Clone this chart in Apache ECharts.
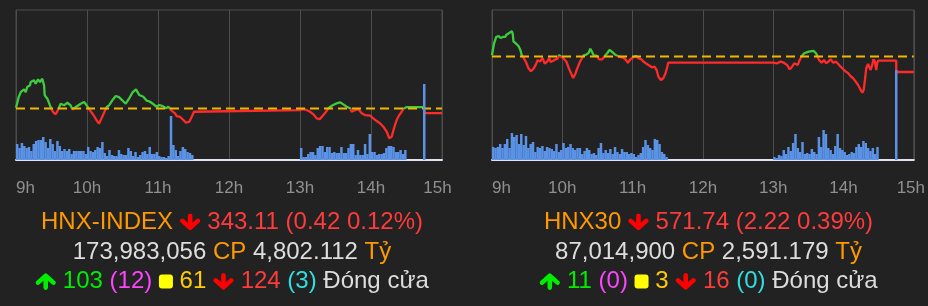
<!DOCTYPE html>
<html><head><meta charset="utf-8">
<script src="https://cdn.jsdelivr.net/npm/echarts@6/dist/echarts.min.js"></script>
<style>html,body{margin:0;padding:0;background:#222;}#c{width:928px;height:306px;}</style>
</head><body><div id="c"></div><script>
// ---- tick labels ----
const hourLabels = ['9h', '10h', '11h', '12h', '13h', '14h', '15h'];

// ---- HNX-INDEX intraday (minutes after 9:00, index value) ----
const hnxTimes = [0,2.3,4.0,6.8,8.2,9.5,11.8,12.4,15.2,16.6,18.6,20.3,22.2,23.7,24.3,26.5,28.7,29.8,31.5,33.5,34.9,36.3,37.8,40.6,43.4,46.2,47.6,49.0,50.5,51.8,54.7,56.0,57.5,59.7,60.8,62.5,65.3,68.2,70.1,72.1,75.0,76.7,78.6,81.4,84.3,87.0,89.8,92.7,95.5,98.3,101.4,104.2,107.6,110.5,113.2,116.0,118.9,121.1,124.0,126.8,128.7,130.1,131.6,134.4,135.8,138.6,141.4,143.7,146.5,148.5,150.4,151.0,240,242.8,245.7,248.5,251.3,254.1,256.9,259.7,262.5,263.9,266.8,271.0,273.8,276.6,279.5,282.3,283.7,285.0,286.5,289.3,292.1,294.9,299.2,301.9,304.8,307.6,310.4,313.3,315.5,317.5,319.4,321.7,323.9,325.9,327.3,328.7,330.2,345,345,360];
const hnxValues = [343.60,344.60,345.07,345.32,345.07,345.54,345.70,346.01,346.17,345.85,346.26,346.01,346.32,345.70,344.76,344.45,343.83,343.51,343.20,342.99,343.27,343.27,343.98,343.83,344.07,343.83,343.42,343.27,343.67,343.83,343.98,343.83,344.14,343.83,343.67,343.36,342.95,342.43,342.11,342.58,343.27,343.67,343.83,344.30,344.70,344.60,344.30,343.98,344.45,345.01,345.32,344.79,344.63,344.26,344.17,343.95,343.70,343.86,343.76,343.55,343.70,343.55,343.32,343.08,342.83,342.76,342.46,342.20,342.30,342.76,343.23,343.34,343.39,343.48,343.39,343.23,342.99,342.61,342.55,342.92,343.30,343.55,343.79,344.02,344.11,343.92,343.70,343.55,343.23,343.08,343.39,343.48,343.08,342.92,342.86,342.61,342.36,342.15,341.83,341.36,340.74,340.90,341.68,342.46,342.92,343.23,343.48,343.60,343.67,343.67,343.11,343.11];
const hnxRef = 343.53;
// volume, 2-minute buckets (morning from 9:00, afternoon from 13:00), plus ATC at 14:45
const hnxVolAM = [16,12,17,14,12,13,9,16,19,20,20,23,18,12,21,16,9,19,14,9,11,9,11,6,9,9,9,9,9,6,13,9,8,10,13,12,18,7,4,10,5,4,4,10,6,5,5,12,9,4,8,3,5,8,9,6,13,6,6,8,4,3,3,2,4,44,15,10,4,9,13,11,8,7,5];
const hnxVolPM = [12,3,3,6,8,8,5,12,14,14,8,13,13,7,8,7,7,13,7,7,12,16,16,5,10,5,5,16,6,26,8,8,5,6,6,7,12,14,14,13,8,8,10,6,10];
const hnxVolATC = 76;

// ---- HNX30 intraday ----
const h30Times = [0,1.7,3.6,5.7,7.4,9.3,11.2,12.4,13.5,15.0,16.9,17.7,18.3,20.5,22.6,24.3,25.4,27.0,29.0,31.0,33.2,35.5,37.4,38.9,41.2,43.1,45.0,47.3,48.8,50.1,53.0,55.8,57.2,59.2,61.4,63.6,65.7,67.6,69.3,71.2,72.7,75.0,76.9,78.3,80.5,82.6,83.9,85.4,86.8,89.6,91.3,94.1,96.3,98.3,100.3,102.0,103.9,105.9,108.2,111.0,113.8,116.0,118.1,120.8,122.8,125.1,127.4,129.3,131.2,133.5,136.3,138.6,140.5,142.0,144.2,146.2,148.1,149.6,150.4,240,240.6,243.4,246.2,249.0,251.8,254.1,256.1,258.0,259.7,260.9,262.6,264.5,266.5,270.2,274.4,276.6,277.8,279.5,281.4,283.4,285.1,287.1,289.0,291.3,293.5,295.5,297.5,299.8,302.0,304.0,305.9,308.2,310.4,312.4,314.4,316.1,317.2,318.3,319.4,320.9,322.2,323.1,324.5,325.6,326.8,327.9,328.7,329.6,345,345,360];
const h30Values = [574.13,575.79,576.75,576.89,576.60,576.75,576.75,577.07,576.99,577.36,577.56,577.22,576.13,575.79,575.46,574.85,574.13,573.75,573.17,572.32,571.85,572.22,572.79,573.42,573.27,573.75,572.93,573.27,573.75,573.17,573.42,573.65,574.13,573.89,573.65,573.17,572.22,571.50,570.89,571.50,572.22,573.17,573.75,574.13,574.22,574.50,575.07,574.60,574.13,574.03,573.56,573.56,574.03,574.42,574.89,574.65,574.42,574.13,573.93,573.85,573.56,573.07,573.56,573.85,574.03,573.70,573.56,573.22,572.99,572.75,572.42,572.50,572.03,571.07,570.60,570.85,571.56,572.50,573.07,573.07,572.99,572.99,573.22,573.07,572.75,572.13,572.50,572.99,573.22,572.75,573.46,574.03,574.42,574.65,574.75,574.42,573.93,573.36,573.07,573.46,572.99,573.22,573.56,573.07,573.22,572.89,572.50,572.13,571.79,571.56,571.17,570.85,570.36,569.89,569.27,568.79,569.17,570.60,572.27,572.89,573.07,572.03,572.75,573.56,573.22,572.03,572.99,573.36,573.36,571.74,571.74];
const h30Ref = 573.96;
const h30VolAM = [13,12,13,16,12,16,21,12,27,23,25,16,26,15,24,12,16,18,8,13,12,14,9,13,12,11,9,16,8,10,17,12,13,16,12,10,12,12,6,9,12,10,6,7,5,12,17,7,10,7,11,6,13,8,6,11,8,8,6,7,6,3,5,7,13,20,15,12,10,21,20,16,8,6,3];
const h30VolPM = [3,2,5,4,10,6,13,9,17,26,12,8,18,6,7,6,11,8,6,23,13,30,26,12,10,6,14,26,12,10,8,5,6,8,7,13,16,13,19,17,12,9,12,6,13];
const h30VolATC = 90;

// ---- summary texts ----
const hnxSummary = ['HNX-INDEX', '343.11', '0.42', '0.12%'];
const hnxTrade = ['173,983,056', '4,802.112'];
const hnxBreadth = ['103', '12', '61', '124', '3'];
const h30Summary = ['HNX30', '571.74', '2.22', '0.39%'];
const h30Trade = ['87,014,900', '2,591.179'];
const h30Breadth = ['11', '0', '3', '16', '0'];

// ---- helpers ----
const pairs = (xs, ys) => xs.map((x, i) => [x, ys[i]]);
const volData = (am, pm, atc) => am.map((v, k) => [2 * k + 1, v])
  .concat(pm.map((v, k) => [241 + 2 * k, v]))
  .concat([[345, atc]]);

const svgUri = s => 'data:image/svg+xml;charset=utf-8,' + encodeURIComponent(s);
const downImg = svgUri("<svg xmlns='http://www.w3.org/2000/svg' width='21' height='17' viewBox='0 0 21 17'><path d='M10.5 2.4V14M2.8 7.4L10.5 14.4L18.2 7.4' fill='none' stroke='#ff0000' stroke-width='4.6' stroke-linecap='round' stroke-linejoin='round'/></svg>");
const upImg = svgUri("<svg xmlns='http://www.w3.org/2000/svg' width='21' height='17' viewBox='0 0 21 17'><path d='M10.5 14.6V3M2.8 9.6L10.5 2.6L18.2 9.6' fill='none' stroke='#00ee00' stroke-width='4.6' stroke-linecap='round' stroke-linejoin='round'/></svg>");

const FONT = 'Liberation Sans, Arial, Helvetica, sans-serif';
const FS = 24;
const rich = {
  o: { color: '#ff9900', fontSize: FS, fontFamily: FONT },
  r: { color: '#ff3b3b', fontSize: FS, fontFamily: FONT },
  w: { color: '#dddddd', fontSize: FS, fontFamily: FONT },
  g: { color: '#00ee00', fontSize: FS, fontFamily: FONT },
  m: { color: '#ff44ff', fontSize: FS, fontFamily: FONT },
  y: { color: '#ffcc00', fontSize: FS, fontFamily: FONT },
  c: { color: '#33dddd', fontSize: FS, fontFamily: FONT },
  dn: { width: 21, height: 17, backgroundColor: { image: downImg } },
  up: { width: 21, height: 17, backgroundColor: { image: upImg } },
  sq: { width: 14, height: 14, backgroundColor: '#ffff00', borderRadius: 3 }
};
const line1 = s => `{o|${s[0]}} {dn| } {r|${s[1]} (${s[2]} ${s[3]})}`;
const line2 = t => `{w|${t[0]}} {o|CP} {w|${t[1]}} {o|Tỷ}`;
const line3 = b => `{up| } {g|${b[0]}} {m|(${b[1]})} {sq| } {y|${b[2]}} {dn| } {r|${b[3]}} {c|(${b[4]})} {w|Đóng cửa}`;

function titles(cx, s, t, b) {
  return [[line1(s), 222], [line2(t), 252.5], [line3(b), 281.5]].map(([txt, y]) => ({
    text: txt, left: cx, top: y, textAlign: 'center', textVerticalAlign: 'middle', padding: 0,
    textStyle: { fontSize: FS, fontFamily: FONT, color: '#dddddd', fontWeight: 'normal', rich }
  }));
}

function xAxisFor(grid, lastPad) {
  return {
    type: 'value', gridIndex: grid, min: 0, max: 360, interval: 60,
    axisLine: { show: true, onZero: false, lineStyle: { color: '#dde3ee', width: 2 } },
    axisTick: { show: false },
    splitLine: { show: true, lineStyle: { color: '#4d4d4d', width: 1 } },
    axisLabel: {
      show: true, margin: 20, color: '#909090', fontSize: 17, fontFamily: FONT,
      showMinLabel: true, showMaxLabel: true, alignMinLabel: 'left',
      formatter: v => { const l = hourLabels[Math.round(v / 60)]; return v >= 360 ? `{last|${l}}` : l; },
      rich: { last: { color: '#909090', fontSize: 17, fontFamily: FONT, padding: [0, lastPad, 0, 0] } }
    }
  };
}
const hiddenY = (grid, min, max) => ({ type: 'value', gridIndex: grid, min, max, show: false, splitLine: { show: false } });

const GREEN = '#3dcc3d', RED = '#ff2a2a', BLUE = '#5a92e6', GOLD = '#f2b600';

function panelSeries(x, yP, yV, times, values, ref, am, pm, atc) {
  return [
    { type: 'bar', xAxisIndex: x, yAxisIndex: yV, data: volData(am, pm, atc), barWidth: 2.5,
      itemStyle: { color: BLUE }, z: 4, silent: true, animation: false },
    { type: 'line', xAxisIndex: x, yAxisIndex: yP, data: pairs(times, values), showSymbol: false,
      symbol: 'none', lineStyle: { width: 2.3 }, z: 2, animation: false },
    { type: 'line', xAxisIndex: x, yAxisIndex: yP, data: [[0, ref], [360, ref]], showSymbol: false,
      symbol: 'none', lineStyle: { width: 2, color: GOLD, type: [9, 5] }, z: 3, animation: false }
  ];
}

const pieces = ref => [
  { gt: ref, lte: ref + 100, color: GREEN },
  { gt: ref - 100, lte: ref, color: RED }
];

const chart = echarts.init(document.getElementById('c'), null, { renderer: 'canvas' });
chart.setOption({
  backgroundColor: '#222222',
  animation: false,
  title: titles(232, hnxSummary, hnxTrade, hnxBreadth).concat(titles(708.5, h30Summary, h30Trade, h30Breadth)),
  grid: [
    { left: 16, top: 10, width: 426, height: 150, show: true, borderColor: '#4d4d4d', borderWidth: 1, backgroundColor: 'transparent' },
    { left: 492, top: 10, width: 425, height: 150, show: true, borderColor: '#4d4d4d', borderWidth: 1, backgroundColor: 'transparent' }
  ],
  xAxis: [xAxisFor(0, 9), xAxisFor(1, 6)],
  yAxis: [
    hiddenY(0, 338.72, 352.74), hiddenY(0, 0, 150),
    hiddenY(1, 559.17, 580.60), hiddenY(1, 0, 150)
  ],
  visualMap: [
    { type: 'piecewise', show: false, seriesIndex: 1, dimension: 1, pieces: pieces(hnxRef) },
    { type: 'piecewise', show: false, seriesIndex: 4, dimension: 1, pieces: pieces(h30Ref) }
  ],
  series: panelSeries(0, 0, 1, hnxTimes, hnxValues, hnxRef, hnxVolAM, hnxVolPM, hnxVolATC)
    .concat(panelSeries(1, 2, 3, h30Times, h30Values, h30Ref, h30VolAM, h30VolPM, h30VolATC))
});
</script></body></html>
